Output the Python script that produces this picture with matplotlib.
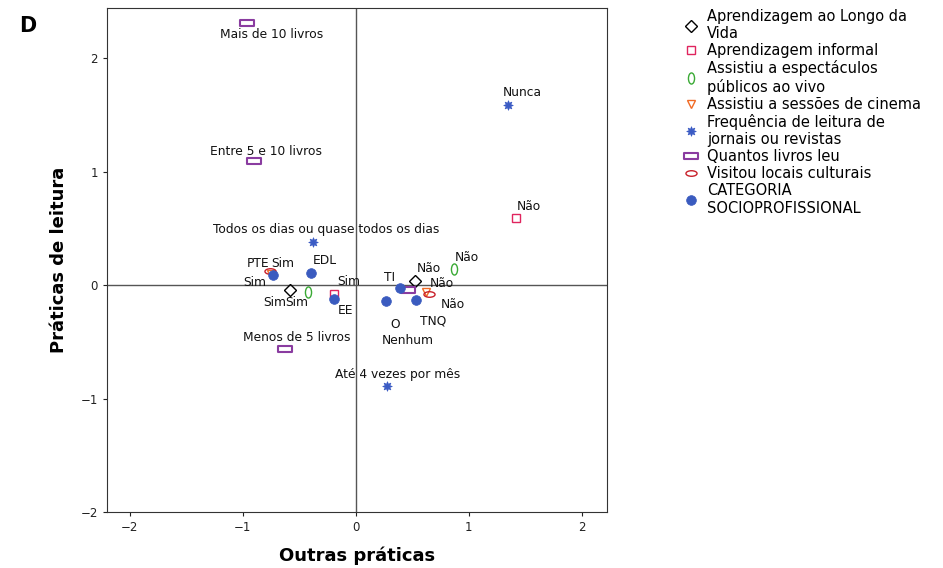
import matplotlib.pyplot as plt
from matplotlib.path import Path
from matplotlib.transforms import Affine2D

# category points (dimension 1 = Outras práticas, dimension 2 = Práticas de leitura)
alv_labels = ["Sim", "Não"]
alv_x = [-0.58, 0.52]
alv_y = [-0.04, 0.04]

informal_labels = ["Sim", "Não"]
informal_x = [-0.19, 1.42]
informal_y = [-0.08, 0.59]

espect_labels = ["Sim", "Não"]
espect_x = [-0.42, 0.87]
espect_y = [-0.06, 0.14]

cinema_labels = ["Sim", "Não"]
cinema_x = [-0.75, 0.62]
cinema_y = [0.10, -0.06]

jornais_labels = ["Nunca", "Todos os dias ou quase todos os dias", "Até 4 vezes por mês"]
jornais_x = [1.35, -0.38, 0.28]
jornais_y = [1.59, 0.38, -0.89]

livros_labels = ["Mais de 10 livros", "Entre 5 e 10 livros", "Menos de 5 livros", "Nenhum"]
livros_x = [-0.96, -0.90, -0.63, 0.46]
livros_y = [2.31, 1.09, -0.56, -0.04]

locais_labels = ["Sim", "Não"]
locais_x = [-0.76, 0.65]
locais_y = [0.12, -0.08]

cat_labels = ["PTE", "EDL", "EE", "TI", "O", "TNQ"]
cat_x = [-0.73, -0.40, -0.19, 0.39, 0.27, 0.53]
cat_y = [0.09, 0.11, -0.12, -0.03, -0.14, -0.13]

# marker shapes
ell_v = Path.unit_circle().transformed(Affine2D().scale(0.55, 1))
ell_h = Path.unit_circle().transformed(Affine2D().scale(1, 0.5))
rect_h = Path([(-1, -0.45), (1, -0.45), (1, 0.45), (-1, 0.45), (-1, -0.45)],
              [Path.MOVETO, Path.LINETO, Path.LINETO, Path.LINETO, Path.CLOSEPOLY])

# name, x, y, labels, marker, edge colour, face colour, size, edge width, label offsets (px)
series = [
    ("Aprendizagem ao Longo da\nVida", alv_x, alv_y, alv_labels, 'D', 'black', 'none', 6, 1.0,
     [(-15, -13), (14, 12)]),
    ("Aprendizagem informal", informal_x, informal_y, informal_labels, 's', '#e0245e', 'none', 6, 1.0,
     [(14, 13), (13, 12)]),
    ("Assistiu a espectáculos\npúblicos ao vivo", espect_x, espect_y, espect_labels, ell_v, '#3aaa35', 'none', 8, 1.0,
     [(-12, -11), (13, 12)]),
    ("Assistiu a sessões de cinema", cinema_x, cinema_y, cinema_labels, 'v', '#f06a25', 'none', 6, 1.0,
     [(-16, -9), (16, 8)]),
    ("Frequência de leitura de\njornais ou revistas", jornais_x, jornais_y, jornais_labels, (8, 1, 0), '#3b5bc4', '#3b5bc4', 7, 0.5,
     [(14, 12), (13, 12), (10, 12)]),
    ("Quantos livros leu", livros_x, livros_y, livros_labels, rect_h, '#8a3ca0', 'none', 10, 1.5,
     [(24, -12), (12, 10), (12, 11), (0, -51)]),
    ("Visitou locais culturais", locais_x, locais_y, locais_labels, ell_h, '#c8202a', 'none', 8, 1.0,
     [(13, 8), (24, -10)]),
    ("CATEGORIA\nSOCIOPROFISSIONAL", cat_x, cat_y, cat_labels, 'o', '#3a5bbf', '#3a5bbf', 7, 0.5,
     [(-15, 11), (14, 12), (11, -12), (-10, 11), (9, -24), (17, -21)]),
]

fig = plt.figure(figsize=(9.43, 5.68), dpi=100)
ax = fig.add_axes([0.1135, 0.0986, 0.530, 0.887])

ax.axhline(0, color='#555555', lw=1, zorder=1)
ax.axvline(0, color='#555555', lw=1, zorder=1)

handles = []
for name, xs, ys, labs, mk, col, fc, ms, mew, offs in series:
    h, = ax.plot(xs, ys, linestyle='none', marker=mk, markersize=ms,
                 markeredgecolor=col, markerfacecolor=fc, markeredgewidth=mew,
                 label=name, zorder=3)
    handles.append(h)
    for x, y, lab, off in zip(xs, ys, labs, offs):
        ax.annotate(lab, (x, y), xytext=off, textcoords='offset pixels',
                    ha='center', va='center', fontsize=8.8, color='#111111')

ax.set_xlim(-2.2, 2.22)
ax.set_ylim(-2.0, 2.44)
ax.set_xticks([-2, -1, 0, 1, 2])
ax.set_yticks([-2, -1, 0, 1, 2])
ax.tick_params(labelsize=8.5, length=3, colors='#222222')
for s in ax.spines.values():
    s.set_color('#333333')
    s.set_linewidth(0.8)

ax.set_xlabel("Outras práticas", fontsize=13, fontweight='bold', labelpad=9)
ax.set_ylabel("Práticas de leitura", fontsize=13, fontweight='bold', labelpad=9)

fig.text(0.02, 0.955, "D", fontsize=15, fontweight='bold', va='center')

fig.legend(handles=handles, loc='upper left', bbox_to_anchor=(0.722, 0.995),
           frameon=False, fontsize=10.5, handlelength=0.6, handletextpad=0.8,
           labelspacing=0.14, borderaxespad=0)

fig.savefig("out.png", dpi=100)
